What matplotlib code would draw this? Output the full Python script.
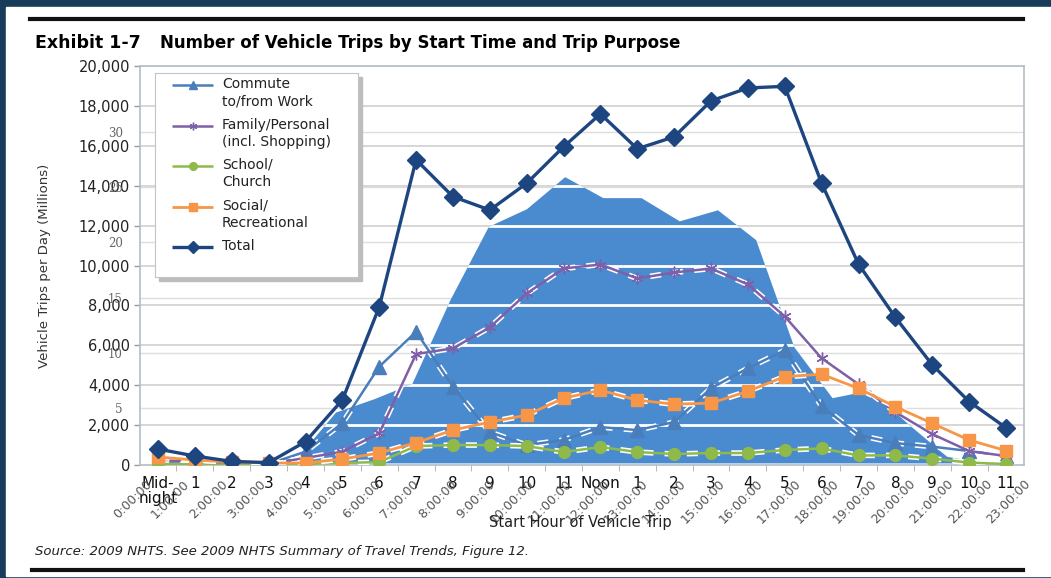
import matplotlib
matplotlib.use("Agg")
import matplotlib.pyplot as plt
import matplotlib.patches as mpatches
from matplotlib.lines import Line2D
from matplotlib.transforms import Affine2D

plt.rcParams['font.family'] = ['DejaVu Sans']

hours = list(range(24))
hour_labels = ["Mid-\nnight"] + [str(h) for h in range(1, 12)] + ["Noon"] + [str(h) for h in range(1, 12)]
clock_labels = [f"{h}:00:00" for h in hours]

commute = [100, 50, 30, 50, 670, 2100, 4930, 6680, 3920, 1650, 1000, 1250,
           1900, 1750, 2150, 3850, 4850, 5750, 2950, 1500, 1100, 920, 700, 450]
family = [250, 150, 80, 60, 350, 670, 1590, 5560, 5850, 6900, 8600, 9850,
          10050, 9350, 9650, 9850, 9050, 7450, 5350, 4050, 2650, 1550, 700, 450]
school = [50, 30, 20, 20, 50, 100, 150, 950, 1000, 1000, 950, 650,
          900, 650, 550, 600, 600, 750, 830, 480, 480, 320, 120, 50]
social = [400, 250, 150, 100, 100, 300, 600, 1120, 1750, 2150, 2500, 3350,
          3750, 3250, 3050, 3100, 3700, 4430, 4550, 3840, 2920, 2090, 1250, 720]
total = [800, 450, 180, 120, 1170, 3260, 7920, 15300, 13450, 12780, 14120, 15950,
         17600, 15850, 16450, 18250, 18900, 18980, 14120, 10070, 7400, 5020, 3180, 1870]

# second chart layered underneath (its own 5..30 scale and clock-hour axis)
area_vals = [0, 0, 0, 0, 0.5, 4.6, 5.8, 7.2, 14.8, 21.4, 23.0, 25.9,
             24.0, 24.0, 21.9, 22.9, 20.2, 10.5, 5.9, 6.6, 3.5, 0.6, 0, 0]
sec_ticks = [5, 10, 15, 20, 25, 30]

# how the second chart's hour/value scale sits on the main one
SX, SX0 = 1.0361, -0.3526
SY, SY0 = 554.0, 80.0

W, H = 1051, 578
fig = plt.figure(figsize=(W / 100, H / 100), dpi=100, facecolor='#173b58')

def fx(px):
    return px / W

def fy(py):
    return 1 - py / H

# white page with rules
fig.add_artist(mpatches.Rectangle((fx(6), fy(576)), fx(W - 6), (576 - 7) / H,
                                  transform=fig.transFigure, color='white', zorder=-2))
fig.add_artist(Line2D([fx(30), fx(1023)], [fy(19), fy(19)], color='#111111', lw=3))
fig.add_artist(Line2D([fx(32), fx(1023)], [fy(570), fy(570)], color='#111111', lw=3))

fig.text(fx(35), fy(43), "Exhibit 1-7", fontsize=12.5, fontweight='bold', va='center')
fig.text(fx(160), fy(43), "Number of Vehicle Trips by Start Time and Trip Purpose",
         fontsize=12, fontweight='bold', va='center')
fig.text(fx(35), fy(552), "Source: 2009 NHTS. See 2009 NHTS Summary of Travel Trends, Figure 12.",
         fontsize=9.5, style='italic', va='center', color='#222222')

ax = fig.add_axes([fx(139.6), fy(465), fx(1024.4 - 139.6), (465 - 66) / H])
ax.set_xlim(-0.5, 23.5)
ax.set_ylim(0, 20000)

sec = Affine2D().scale(SX, SY).translate(SX0, SY0) + ax.transData

# gridlines: main scale every 2,000 and the second chart's every 5
for y in range(2000, 20001, 2000):
    ax.axhline(y, color='#d3d3d3', lw=1.3, zorder=0.5)
for v in sec_ticks:
    ax.axhline(SY0 + SY * v, color='#dedede', lw=1.0, zorder=0.5)

area = ax.fill(hours, area_vals, color='#4a8bd0', lw=0, zorder=1, transform=sec)[0]
for y in range(2000, 20000, 2000):
    ln = ax.axhline(y, color='white', lw=2.0, zorder=1.5)
    ln.set_clip_path(area)

series = [
    ("Commute\nto/from Work", commute, '#4a7ebb', '^', 9.5, 1.8),
    ("Family/Personal\n(incl. Shopping)", family, '#7f5fa8', (6, 2, 0), 8.5, 1.8),
    ("School/\nChurch", school, '#8fba4a', 'o', 8.5, 1.8),
    ("Social/\nRecreational", social, '#f79646', 's', 8.5, 2.0),
    ("Total", total, '#1d4580', 'D', 9.5, 2.4),
]
for i, (name, vals, col, mk, ms, lw) in enumerate(series):
    z = 3 + i
    if name != "Total":
        ax.plot(hours, vals, color='white', lw=lw + 2.2, ls=(0, (2, 2)), zorder=z - 0.5)
    ax.plot(hours, vals, color=col, lw=lw, marker=mk, ms=ms, mec=col, mfc=col, zorder=z)

# main axes ticks
ax.set_yticks(range(0, 20001, 2000))
ax.set_yticklabels([f"{v:,}" for v in range(0, 20001, 2000)])
ax.tick_params(axis='y', length=4, width=1, color='#999999', pad=3,
               labelsize=10.5, labelcolor='#222222')
ax.set_xticks(hours)
ax.set_xticklabels(hour_labels, linespacing=0.95)
ax.set_xticks([h + 0.5 for h in hours[:-1]], minor=True)
ax.tick_params(axis='x', which='major', length=0, pad=8, labelsize=11, labelcolor='#111111')
ax.tick_params(axis='x', which='minor', length=4, color='#aaaaaa')
for s in ax.spines.values():
    s.set_color('#b3bec6')
    s.set_linewidth(1.2)
ax.set_ylabel("Vehicle Trips per Day (Millions)", fontsize=9.5, color='#333333')
ax.yaxis.set_label_coords(-0.1, 0.5)

# the second chart's value and clock-hour labels
ax2 = ax.twinx()
ax2.set_ylim((0 - SY0) / SY, (20000 - SY0) / SY)
ax2.yaxis.set_ticks_position('left')
ax2.set_yticks(sec_ticks)
ax2.tick_params(axis='y', length=0, pad=12, labelsize=8.5, labelcolor='#666666')
for lab in ax2.get_yticklabels():
    lab.set_family('DejaVu Serif')
ax3 = ax.twiny()
ax3.set_xlim((-0.5 - SX0) / SX, (23.5 - SX0) / SX)
ax3.xaxis.set_ticks_position('bottom')
ax3.set_xticks(hours)
ax3.set_xticklabels(clock_labels, rotation=45, ha='right', rotation_mode='anchor')
ax3.tick_params(axis='x', length=0, pad=9, labelsize=9, labelcolor='#555555')
for a in (ax2, ax3):
    a.patch.set_visible(False)
    for s in a.spines.values():
        s.set_visible(False)

fig.text(fx(580), fy(522), "Start Hour of Vehicle Trip", fontsize=10.5, ha='center',
         va='center', color='#222222')

# legend box with drop shadow
lx, ly, lw_, lh = 155, 73, 203, 204
fig.add_artist(mpatches.Rectangle((fx(lx + 4), fy(ly + lh + 4)), lw_ / W, lh / H,
                                  transform=fig.transFigure, color='#bdbdbd', zorder=4))
lax = fig.add_axes([fx(lx), fy(ly + lh), lw_ / W, lh / H])
lax.set_zorder(5)
lax.set_xlim(0, lw_)
lax.set_ylim(lh, 0)
lax.set_xticks([])
lax.set_yticks([])
for s in lax.spines.values():
    s.set_color('#c4c4c4')
for i, (name, vals, col, mk, ms, lw) in enumerate(series):
    yy = 12 + 40.5 * i
    lax.plot([17, 58], [yy, yy], color=col, lw=lw, solid_capstyle='butt')
    lax.plot([37.5], [yy], color=col, marker=mk, ms=ms * 0.65, mec=col)
    lax.text(67, yy - 8, name, fontsize=10, va='top', ha='left', color='#222222',
             linespacing=1.3)

fig.savefig('out.png', dpi=100, facecolor=fig.get_facecolor())
